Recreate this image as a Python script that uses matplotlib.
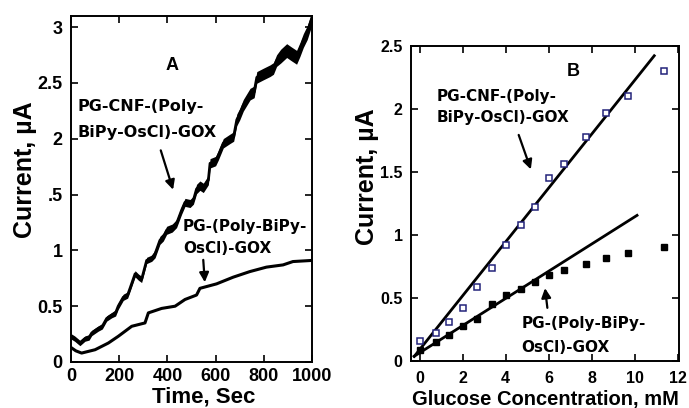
import numpy as np
import matplotlib
matplotlib.use('Agg')
import matplotlib.pyplot as plt

# Panel A: amperometric response vs time
time_cnf = [0, 15, 37, 58, 75, 86, 113, 130, 148, 169,
            185, 196, 217, 235, 245, 266, 280, 293, 314, 335,
            349, 369, 383, 397, 420, 438, 459, 473, 494, 508,
            521, 535, 549, 570, 577, 600, 611, 632, 660, 675,
            688, 700, 715, 743, 760, 771, 798, 826, 840, 853,
            870, 895, 915, 936, 950, 964, 980, 992, 1000]
current_cnf = [0.23, 0.21, 0.17, 0.21, 0.22, 0.26, 0.30, 0.32, 0.39, 0.42,
               0.44, 0.50, 0.58, 0.60, 0.66, 0.79, 0.76, 0.74, 0.91, 0.93,
               0.97, 1.09, 1.12, 1.18, 1.20, 1.24, 1.36, 1.43, 1.42, 1.45,
               1.55, 1.58, 1.56, 1.63, 1.78, 1.80, 1.85, 1.96, 2.00, 2.02,
               2.17, 2.22, 2.30, 2.40, 2.42, 2.55, 2.58, 2.61, 2.63, 2.70,
               2.74, 2.79, 2.76, 2.73, 2.80, 2.88, 2.95, 3.03, 3.08]
# half thickness of the noisy trace
noise_cnf = [0.024] * 10 + [0.028] * 10 + [0.036] * 10 + [0.042] * 10 + [0.052] * 10 + [0.062] * 9

time_pg = [0, 20, 44, 100, 155, 196, 252, 307, 321, 376, 432, 473, 521, 535, 604, 673, 742,
           811, 880, 921, 1000]
current_pg = [0.13, 0.10, 0.08, 0.11, 0.17, 0.23, 0.32, 0.35, 0.44, 0.48, 0.50, 0.56, 0.60,
              0.66, 0.70, 0.76, 0.81, 0.85, 0.87, 0.90, 0.91]

# Panel B: calibration plots
glucose = [0, 0.78, 1.36, 2.0, 2.68, 3.38, 4.03, 4.7, 5.35, 6.0, 6.7, 7.72, 8.68, 9.7, 11.35]
cal_cnf = [0.16, 0.22, 0.31, 0.42, 0.59, 0.74, 0.92, 1.08, 1.22, 1.45, 1.56, 1.78, 1.97, 2.10, 2.30]
cal_pg = [0.09, 0.15, 0.21, 0.28, 0.33, 0.45, 0.52, 0.57, 0.63, 0.68, 0.72, 0.77, 0.82, 0.86, 0.905]

# linear fits drawn in panel B: (slope, intercept, x start, x end)
fit_cnf = (0.214, 0.09, -0.25, 10.9)
fit_pg = (0.108, 0.065, -0.25, 10.1)

ytick_a = [0, 0.5, 1, 1.5, 2, 2.5, 3]
ytick_a_labels = ['0', '0.5', '1', '.5', '2', '2.5', '3']
xtick_a = [0, 200, 400, 600, 800, 1000]
ytick_b = [0, 0.5, 1, 1.5, 2, 2.5]
ytick_b_labels = ['0', '0.5', '1', '1.5', '2', '2.5']
xtick_b = [0, 2, 4, 6, 8, 10, 12]

lab_font = 'Liberation Sans'
ann_font = 'DejaVu Sans'

fig = plt.figure(figsize=(6.89, 4.08), dpi=100)

def style_axes(ax, tick_size):
    for s in ax.spines.values():
        s.set_linewidth(1.4)
    ax.tick_params(direction='in', length=5, width=1.2, top=True, right=True,
                   labelsize=tick_size)
    for lab in ax.get_xticklabels() + ax.get_yticklabels():
        lab.set_fontfamily(lab_font)
        lab.set_fontweight('bold')

# ---------- panel A ----------
ax1 = fig.add_axes([71 / 689, 46 / 408, 241 / 689, 346 / 408])
t_c = np.array(time_cnf)
c_c = np.array(current_cnf)
n_c = np.array(noise_cnf)
ax1.fill_between(t_c, c_c - n_c, c_c + n_c, color='black', lw=0)
ax1.plot(t_c, c_c, color='black', lw=2)
ax1.plot(time_pg, current_pg, color='black', lw=2.2)
ax1.set_xlim(0, 1000)
ax1.set_ylim(0, 3.1)
ax1.set_xticks(xtick_a)
ax1.set_yticks(ytick_a)
ax1.set_yticklabels(ytick_a_labels)
ax1.tick_params(axis='x', pad=4)
ax1.tick_params(axis='y', pad=6)
style_axes(ax1, 13)
ax1.set_xlabel('Time, Sec', fontsize=16, fontweight='bold', family=lab_font)
ax1.xaxis.set_label_coords(0.55, -0.071)
ax1.set_ylabel('Current, µA', fontsize=18, fontweight='bold', family=lab_font)
ax1.yaxis.set_label_coords(-0.14, 0.555)

ax1.text(419, 2.66, 'A', fontsize=13, fontweight='bold', family=lab_font, ha='center', va='center')
ax1.text(29, 2.29, 'PG-CNF-(Poly-', fontsize=11.5, fontweight='bold', family=ann_font, va='center')
ax1.text(29, 2.06, 'BiPy-OsCl)-GOX', fontsize=11.5, fontweight='bold', family=ann_font, va='center')
ax1.annotate('', xy=(427, 1.52), xytext=(369, 1.92),
             arrowprops=dict(arrowstyle='-|>', color='black', lw=1.6, mutation_scale=14))
ax1.text(465, 1.21, 'PG-(Poly-BiPy-', fontsize=11, fontweight='bold', family=ann_font, va='center')
ax1.text(465, 1.02, 'OsCl)-GOX', fontsize=11, fontweight='bold', family=ann_font, va='center')
ax1.annotate('', xy=(556, 0.69), xytext=(548, 0.94),
             arrowprops=dict(arrowstyle='-|>', color='black', lw=1.6, mutation_scale=14))

# ---------- panel B ----------
ax2 = fig.add_axes([411 / 689, 47 / 408, 268 / 689, 315 / 408])
for (k, b, x0, x1) in [fit_cnf, fit_pg]:
    xs = np.array([x0, x1])
    ax2.plot(xs, k * xs + b, color='black', lw=2)
ax2.plot(glucose, cal_cnf, 's', ms=4.5, mfc='white', mec='#23237a', mew=1.1, ls='none')
ax2.plot(glucose, cal_pg, 's', ms=4.5, mfc='black', mec='black', ls='none')
ax2.set_xlim(-0.4, 12.05)
ax2.set_ylim(0, 2.5)
ax2.set_xticks(xtick_b)
ax2.set_yticks(ytick_b)
ax2.set_yticklabels(ytick_b_labels)
ax2.tick_params(axis='x', pad=7)
ax2.tick_params(axis='y', pad=6)
style_axes(ax2, 11.5)
ax2.set_xlabel('Glucose Concentration, mM', fontsize=14.5, fontweight='bold', family=lab_font)
ax2.xaxis.set_label_coords(0.5, -0.092)
ax2.set_ylabel('Current, µA', fontsize=18, fontweight='bold', family=lab_font)
ax2.yaxis.set_label_coords(-0.118, 0.584)

ax2.text(7.12, 2.30, 'B', fontsize=13, fontweight='bold', family=lab_font, ha='center', va='center')
ax2.text(0.79, 2.10, 'PG-CNF-(Poly-', fontsize=11, fontweight='bold', family=ann_font, va='center')
ax2.text(0.79, 1.93, 'BiPy-OsCl)-GOX', fontsize=11, fontweight='bold', family=ann_font, va='center')
ax2.annotate('', xy=(5.21, 1.50), xytext=(4.56, 1.815),
             arrowprops=dict(arrowstyle='-|>', color='black', lw=1.6, mutation_scale=14))
ax2.text(4.74, 0.30, 'PG-(Poly-BiPy-', fontsize=11, fontweight='bold', family=ann_font, va='center')
ax2.text(4.74, 0.11, 'OsCl)-GOX', fontsize=11, fontweight='bold', family=ann_font, va='center')
ax2.annotate('', xy=(5.81, 0.60), xytext=(5.95, 0.40),
             arrowprops=dict(arrowstyle='-|>', color='black', lw=1.6, mutation_scale=14))

fig.savefig('out.png', dpi=100)
